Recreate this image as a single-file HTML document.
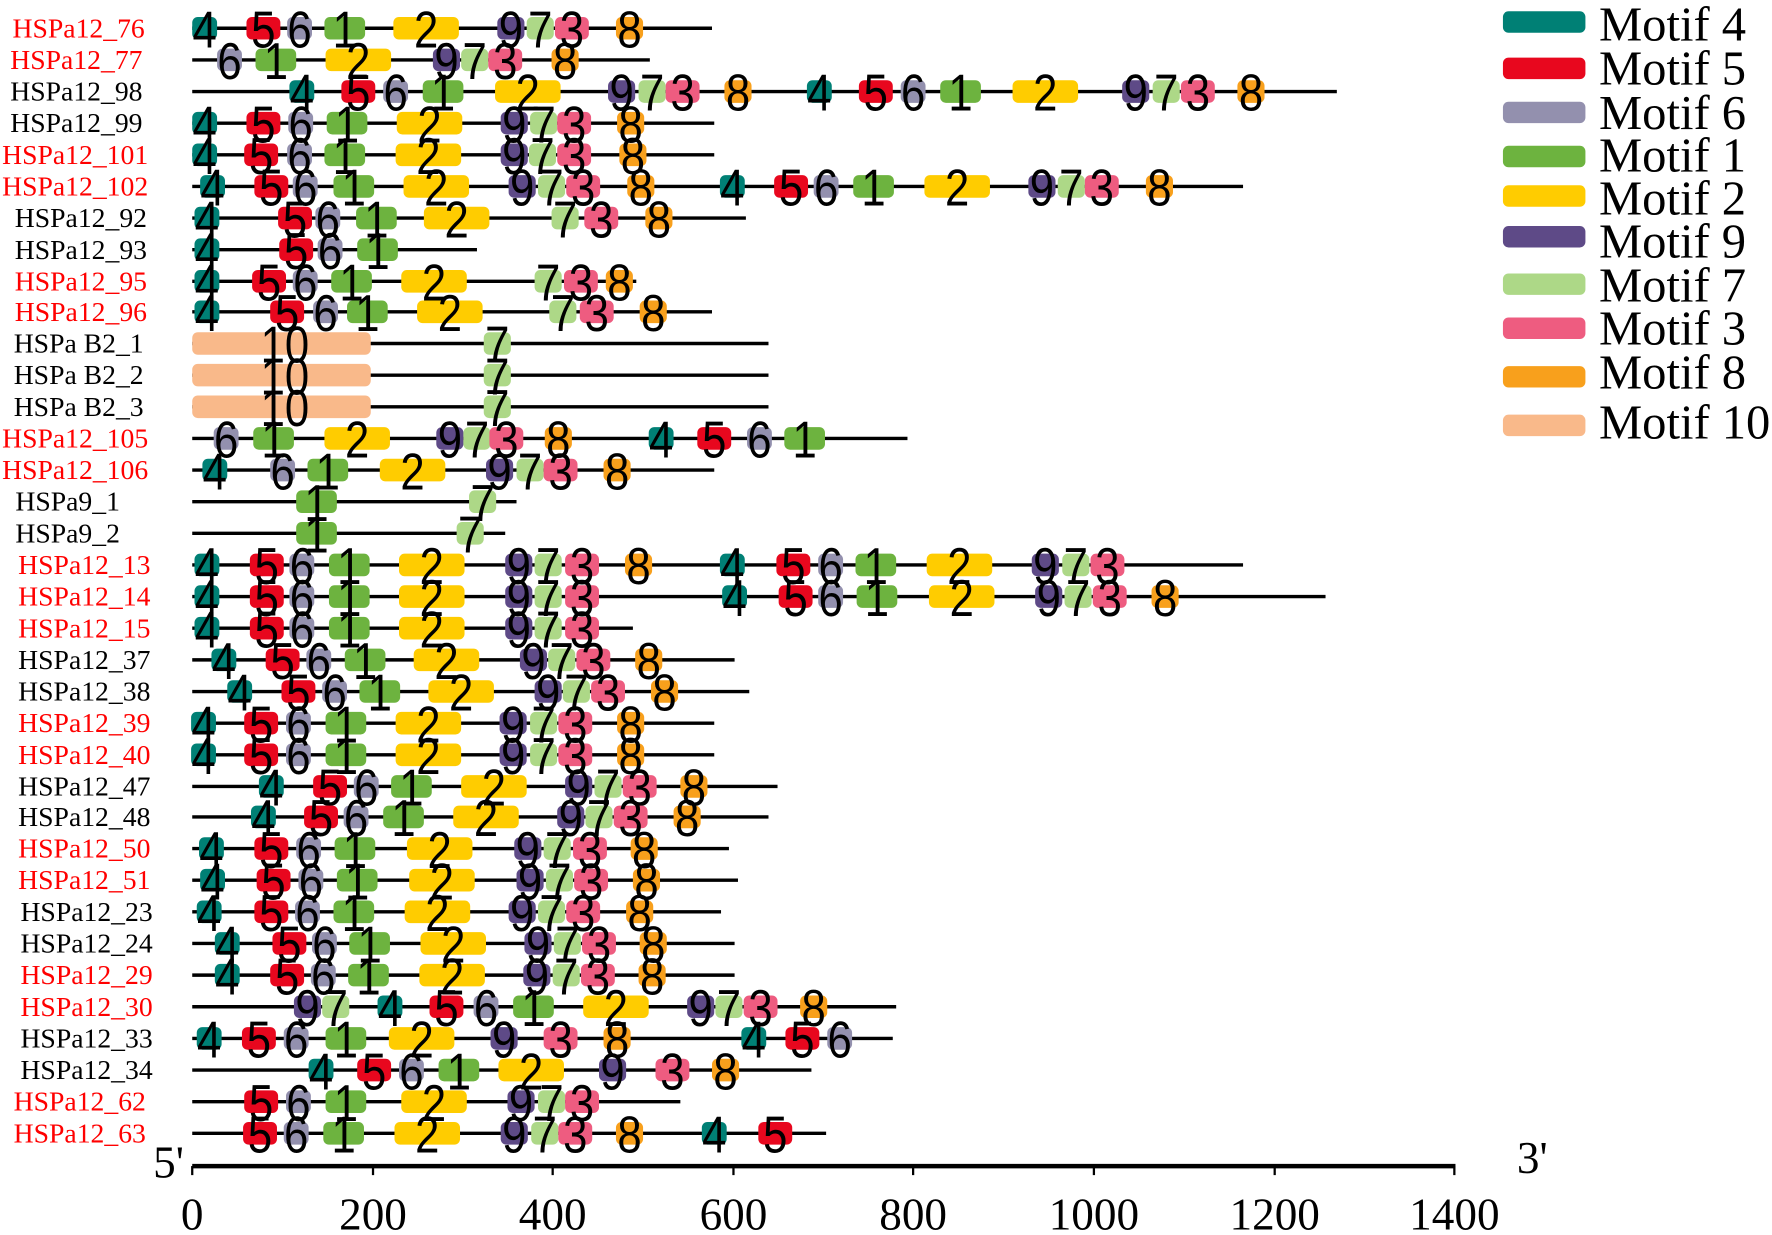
<!DOCTYPE html>
<html><head><meta charset="utf-8"><style>
html,body{margin:0;padding:0;background:#fff}
svg{display:block}
.l{font-family:"Liberation Serif",serif;font-size:24.5px;text-anchor:end}
.r{fill:#f00}
.d text{font-family:"Liberation Sans",sans-serif;font-size:46px;text-anchor:middle;fill:#000;transform-box:fill-box;transform-origin:center;transform:translateY(5px) scaleX(0.84)}
.ax{font-family:"Liberation Serif",serif;font-size:40px;text-anchor:middle}
.lg{font-family:"Liberation Serif",serif;font-size:43px}
</style></head><body>
<svg width="1772" height="1235" viewBox="0 0 1568 1093" xmlns="http://www.w3.org/2000/svg">
<defs>
<rect id="r4" x="-11" y="-10" width="22" height="20" rx="5" fill="#008075"/>
<rect id="r5" x="-15" y="-10" width="30" height="20" rx="5" fill="#E8071E"/>
<rect id="r6" x="-11" y="-10" width="22" height="20" rx="5" fill="#9390AE"/>
<rect id="r1" x="-18" y="-10" width="36" height="20" rx="5" fill="#6DB33F"/>
<rect id="r2" x="-29" y="-10" width="58" height="20" rx="5" fill="#FFCC00"/>
<rect id="r9" x="-12" y="-10" width="24" height="20" rx="5" fill="#5E4A87"/>
<rect id="r7" x="-12" y="-10" width="24" height="20" rx="5" fill="#ADD887"/>
<rect id="r3" x="-15" y="-10" width="30" height="20" rx="5" fill="#EE5C80"/>
<rect id="r8" x="-12" y="-10" width="24" height="20" rx="5" fill="#F8A01C"/>
</defs>

<g class="l">
<text x="128" y="33" class="r">HSPa12_76</text>
<text x="126" y="61" class="r">HSPa12_77</text>
<text x="126" y="89">HSPa12_98</text>
<text x="126" y="117">HSPa12_99</text>
<text x="131" y="145" class="r">HSPa12_101</text>
<text x="131" y="173" class="r">HSPa12_102</text>
<text x="130" y="201">HSPa12_92</text>
<text x="130" y="229">HSPa12_93</text>
<text x="130" y="257" class="r">HSPa12_95</text>
<text x="130" y="284" class="r">HSPa12_96</text>
<text x="127" y="312">HSPa B2_1</text>
<text x="127" y="340">HSPa B2_2</text>
<text x="127" y="368">HSPa B2_3</text>
<text x="131" y="396" class="r">HSPa12_105</text>
<text x="131" y="424" class="r">HSPa12_106</text>
<text x="106" y="452">HSPa9_1</text>
<text x="106" y="480">HSPa9_2</text>
<text x="133" y="508" class="r">HSPa12_13</text>
<text x="133" y="536" class="r">HSPa12_14</text>
<text x="133" y="564" class="r">HSPa12_15</text>
<text x="133" y="592">HSPa12_37</text>
<text x="133" y="620">HSPa12_38</text>
<text x="133" y="648" class="r">HSPa12_39</text>
<text x="133" y="676" class="r">HSPa12_40</text>
<text x="133" y="704">HSPa12_47</text>
<text x="133" y="731">HSPa12_48</text>
<text x="133" y="759" class="r">HSPa12_50</text>
<text x="133" y="787" class="r">HSPa12_51</text>
<text x="135" y="815">HSPa12_23</text>
<text x="135" y="843">HSPa12_24</text>
<text x="135" y="871" class="r">HSPa12_29</text>
<text x="135" y="899" class="r">HSPa12_30</text>
<text x="135" y="927">HSPa12_33</text>
<text x="135" y="955">HSPa12_34</text>
<text x="129" y="983" class="r">HSPa12_62</text>
<text x="129" y="1011" class="r">HSPa12_63</text>
</g>

<g class="d">
<g transform="translate(0,25)"><line x1="170" x2="630" stroke="#000" stroke-width="3"/>
<use href="#r4" x="181"/><use href="#r5" x="233"/><use href="#r6" x="265"/><use href="#r1" x="305"/><use href="#r2" x="377"/><use href="#r9" x="452"/><use href="#r7" x="478"/><use href="#r3" x="506"/><use href="#r8" x="557"/>
<text x="181" y="12">4</text><text x="233" y="12">5</text><text x="265" y="12">6</text><text x="305" y="12">1</text><text x="377" y="12">2</text><text x="452" y="12">9</text><text x="478" y="12">7</text><text x="506" y="12">3</text><text x="557" y="12">8</text></g>
<g transform="translate(0,53)"><line x1="170" x2="575" stroke="#000" stroke-width="3"/>
<use href="#r6" x="203"/><use href="#r1" x="244"/><use href="#r2" x="317"/><use href="#r9" x="395"/><use href="#r7" x="420"/><use href="#r3" x="447"/><use href="#r8" x="500"/>
<text x="203" y="12">6</text><text x="244" y="12">1</text><text x="317" y="12">2</text><text x="395" y="12">9</text><text x="420" y="12">7</text><text x="447" y="12">3</text><text x="500" y="12">8</text></g>
<g transform="translate(0,81)"><line x1="170" x2="1183" stroke="#000" stroke-width="3"/>
<use href="#r4" x="267"/><use href="#r5" x="317"/><use href="#r6" x="350"/><use href="#r1" x="392"/><use href="#r2" x="467"/><use href="#r9" x="550"/><use href="#r7" x="577"/><use href="#r3" x="604"/><use href="#r8" x="653"/><use href="#r4" x="725"/><use href="#r5" x="775"/><use href="#r6" x="808"/><use href="#r1" x="850"/><use href="#r2" x="925"/><use href="#r9" x="1005"/><use href="#r7" x="1032"/><use href="#r3" x="1060"/><use href="#r8" x="1107"/>
<text x="267" y="12">4</text><text x="317" y="12">5</text><text x="350" y="12">6</text><text x="392" y="12">1</text><text x="467" y="12">2</text><text x="550" y="12">9</text><text x="577" y="12">7</text><text x="604" y="12">3</text><text x="653" y="12">8</text><text x="725" y="12">4</text><text x="775" y="12">5</text><text x="808" y="12">6</text><text x="850" y="12">1</text><text x="925" y="12">2</text><text x="1005" y="12">9</text><text x="1032" y="12">7</text><text x="1060" y="12">3</text><text x="1107" y="12">8</text></g>
<g transform="translate(0,109)"><line x1="170" x2="632" stroke="#000" stroke-width="3"/>
<use href="#r4" x="181"/><use href="#r5" x="233"/><use href="#r6" x="266"/><use href="#r1" x="307"/><use href="#r2" x="380"/><use href="#r9" x="455"/><use href="#r7" x="481"/><use href="#r3" x="508"/><use href="#r8" x="558"/>
<text x="181" y="12">4</text><text x="233" y="12">5</text><text x="266" y="12">6</text><text x="307" y="12">1</text><text x="380" y="12">2</text><text x="455" y="12">9</text><text x="481" y="12">7</text><text x="508" y="12">3</text><text x="558" y="12">8</text></g>
<g transform="translate(0,137)"><line x1="170" x2="632" stroke="#000" stroke-width="3"/>
<use href="#r4" x="181"/><use href="#r5" x="231"/><use href="#r6" x="265"/><use href="#r1" x="305"/><use href="#r2" x="379"/><use href="#r9" x="455"/><use href="#r7" x="480"/><use href="#r3" x="508"/><use href="#r8" x="560"/>
<text x="181" y="12">4</text><text x="231" y="12">5</text><text x="265" y="12">6</text><text x="305" y="12">1</text><text x="379" y="12">2</text><text x="455" y="12">9</text><text x="480" y="12">7</text><text x="508" y="12">3</text><text x="560" y="12">8</text></g>
<g transform="translate(0,165)"><line x1="170" x2="1100" stroke="#000" stroke-width="3"/>
<use href="#r4" x="188"/><use href="#r5" x="240"/><use href="#r6" x="270"/><use href="#r1" x="313"/><use href="#r2" x="386"/><use href="#r9" x="462"/><use href="#r7" x="488"/><use href="#r3" x="516"/><use href="#r8" x="567"/><use href="#r4" x="648"/><use href="#r5" x="700"/><use href="#r6" x="731"/><use href="#r1" x="773"/><use href="#r2" x="847"/><use href="#r9" x="922"/><use href="#r7" x="948"/><use href="#r3" x="975"/><use href="#r8" x="1026"/>
<text x="188" y="12">4</text><text x="240" y="12">5</text><text x="270" y="12">6</text><text x="313" y="12">1</text><text x="386" y="12">2</text><text x="462" y="12">9</text><text x="488" y="12">7</text><text x="516" y="12">3</text><text x="567" y="12">8</text><text x="648" y="12">4</text><text x="700" y="12">5</text><text x="731" y="12">6</text><text x="773" y="12">1</text><text x="847" y="12">2</text><text x="922" y="12">9</text><text x="948" y="12">7</text><text x="975" y="12">3</text><text x="1026" y="12">8</text></g>
<g transform="translate(0,193)"><line x1="170" x2="660" stroke="#000" stroke-width="3"/>
<use href="#r4" x="183"/><use href="#r5" x="261"/><use href="#r6" x="290"/><use href="#r1" x="333"/><use href="#r2" x="404"/><use href="#r7" x="500"/><use href="#r3" x="532"/><use href="#r8" x="583"/>
<text x="183" y="12">4</text><text x="261" y="12">5</text><text x="290" y="12">6</text><text x="333" y="12">1</text><text x="404" y="12">2</text><text x="500" y="12">7</text><text x="532" y="12">3</text><text x="583" y="12">8</text></g>
<g transform="translate(0,221)"><line x1="170" x2="422" stroke="#000" stroke-width="3"/>
<use href="#r4" x="183"/><use href="#r5" x="262"/><use href="#r6" x="292"/><use href="#r1" x="334"/>
<text x="183" y="12">4</text><text x="262" y="12">5</text><text x="292" y="12">6</text><text x="334" y="12">1</text></g>
<g transform="translate(0,249)"><line x1="170" x2="563" stroke="#000" stroke-width="3"/>
<use href="#r4" x="183"/><use href="#r5" x="238"/><use href="#r6" x="270"/><use href="#r1" x="311"/><use href="#r2" x="384"/><use href="#r7" x="485"/><use href="#r3" x="514"/><use href="#r8" x="548"/>
<text x="183" y="12">4</text><text x="238" y="12">5</text><text x="270" y="12">6</text><text x="311" y="12">1</text><text x="384" y="12">2</text><text x="485" y="12">7</text><text x="514" y="12">3</text><text x="548" y="12">8</text></g>
<g transform="translate(0,276)"><line x1="170" x2="630" stroke="#000" stroke-width="3"/>
<use href="#r4" x="183"/><use href="#r5" x="254"/><use href="#r6" x="288"/><use href="#r1" x="325"/><use href="#r2" x="398"/><use href="#r7" x="498"/><use href="#r3" x="528"/><use href="#r8" x="578"/>
<text x="183" y="12">4</text><text x="254" y="12">5</text><text x="288" y="12">6</text><text x="325" y="12">1</text><text x="398" y="12">2</text><text x="498" y="12">7</text><text x="528" y="12">3</text><text x="578" y="12">8</text></g>
<g transform="translate(0,304)"><line x1="170" x2="680" stroke="#000" stroke-width="3"/>
<rect x="170" y="-10" width="158" height="20" rx="5" fill="#F9B98A"/><use href="#r7" x="440"/>
<text x="252" y="12">10</text><text x="440" y="12">7</text></g>
<g transform="translate(0,332)"><line x1="170" x2="680" stroke="#000" stroke-width="3"/>
<rect x="170" y="-10" width="158" height="20" rx="5" fill="#F9B98A"/><use href="#r7" x="440"/>
<text x="252" y="12">10</text><text x="440" y="12">7</text></g>
<g transform="translate(0,360)"><line x1="170" x2="680" stroke="#000" stroke-width="3"/>
<rect x="170" y="-10" width="158" height="20" rx="5" fill="#F9B98A"/><use href="#r7" x="440"/>
<text x="252" y="12">10</text><text x="440" y="12">7</text></g>
<g transform="translate(0,388)"><line x1="170" x2="803" stroke="#000" stroke-width="3"/>
<use href="#r6" x="200"/><use href="#r1" x="242"/><use href="#r2" x="316"/><use href="#r9" x="398"/><use href="#r7" x="422"/><use href="#r3" x="448"/><use href="#r8" x="494"/><use href="#r4" x="585"/><use href="#r5" x="632"/><use href="#r6" x="672"/><use href="#r1" x="712"/>
<text x="200" y="12">6</text><text x="242" y="12">1</text><text x="316" y="12">2</text><text x="398" y="12">9</text><text x="422" y="12">7</text><text x="448" y="12">3</text><text x="494" y="12">8</text><text x="585" y="12">4</text><text x="632" y="12">5</text><text x="672" y="12">6</text><text x="712" y="12">1</text></g>
<g transform="translate(0,416)"><line x1="170" x2="632" stroke="#000" stroke-width="3"/>
<use href="#r4" x="190"/><use href="#r6" x="250"/><use href="#r1" x="290"/><use href="#r2" x="365"/><use href="#r9" x="442"/><use href="#r7" x="469"/><use href="#r3" x="496"/><use href="#r8" x="546"/>
<text x="190" y="12">4</text><text x="250" y="12">6</text><text x="290" y="12">1</text><text x="365" y="12">2</text><text x="442" y="12">9</text><text x="469" y="12">7</text><text x="496" y="12">3</text><text x="546" y="12">8</text></g>
<g transform="translate(0,444)"><line x1="170" x2="457" stroke="#000" stroke-width="3"/>
<use href="#r1" x="280"/><use href="#r7" x="427"/><text x="280" y="12">1</text><text x="427" y="12">7</text></g>
<g transform="translate(0,472)"><line x1="170" x2="447" stroke="#000" stroke-width="3"/>
<use href="#r1" x="280"/><use href="#r7" x="416"/><text x="280" y="12">1</text><text x="416" y="12">7</text></g>
<g transform="translate(0,500)"><line x1="170" x2="1100" stroke="#000" stroke-width="3"/>
<use href="#r4" x="183"/><use href="#r5" x="236"/><use href="#r6" x="267"/><use href="#r1" x="309"/><use href="#r2" x="382"/><use href="#r9" x="459"/><use href="#r7" x="485"/><use href="#r3" x="515"/><use href="#r8" x="565"/><use href="#r4" x="648"/><use href="#r5" x="702"/><use href="#r6" x="735"/><use href="#r1" x="775"/><use href="#r2" x="849"/><use href="#r9" x="925"/><use href="#r7" x="952"/><use href="#r3" x="980"/>
<text x="183" y="12">4</text><text x="236" y="12">5</text><text x="267" y="12">6</text><text x="309" y="12">1</text><text x="382" y="12">2</text><text x="459" y="12">9</text><text x="485" y="12">7</text><text x="515" y="12">3</text><text x="565" y="12">8</text><text x="648" y="12">4</text><text x="702" y="12">5</text><text x="735" y="12">6</text><text x="775" y="12">1</text><text x="849" y="12">2</text><text x="925" y="12">9</text><text x="952" y="12">7</text><text x="980" y="12">3</text></g>
<g transform="translate(0,528)"><line x1="170" x2="1173" stroke="#000" stroke-width="3"/>
<use href="#r4" x="183"/><use href="#r5" x="236"/><use href="#r6" x="267"/><use href="#r1" x="309"/><use href="#r2" x="382"/><use href="#r9" x="459"/><use href="#r7" x="485"/><use href="#r3" x="515"/><use href="#r4" x="650"/><use href="#r5" x="704"/><use href="#r6" x="735"/><use href="#r1" x="776"/><use href="#r2" x="851"/><use href="#r9" x="928"/><use href="#r7" x="954"/><use href="#r3" x="982"/><use href="#r8" x="1031"/>
<text x="183" y="12">4</text><text x="236" y="12">5</text><text x="267" y="12">6</text><text x="309" y="12">1</text><text x="382" y="12">2</text><text x="459" y="12">9</text><text x="485" y="12">7</text><text x="515" y="12">3</text><text x="650" y="12">4</text><text x="704" y="12">5</text><text x="735" y="12">6</text><text x="776" y="12">1</text><text x="851" y="12">2</text><text x="928" y="12">9</text><text x="954" y="12">7</text><text x="982" y="12">3</text><text x="1031" y="12">8</text></g>
<g transform="translate(0,556)"><line x1="170" x2="560" stroke="#000" stroke-width="3"/>
<use href="#r4" x="183"/><use href="#r5" x="236"/><use href="#r6" x="267"/><use href="#r1" x="309"/><use href="#r2" x="382"/><use href="#r9" x="459"/><use href="#r7" x="485"/><use href="#r3" x="515"/>
<text x="183" y="12">4</text><text x="236" y="12">5</text><text x="267" y="12">6</text><text x="309" y="12">1</text><text x="382" y="12">2</text><text x="459" y="12">9</text><text x="485" y="12">7</text><text x="515" y="12">3</text></g>
<g transform="translate(0,584)"><line x1="170" x2="650" stroke="#000" stroke-width="3"/>
<use href="#r4" x="198"/><use href="#r5" x="250"/><use href="#r6" x="282"/><use href="#r1" x="323"/><use href="#r2" x="395"/><use href="#r9" x="472"/><use href="#r7" x="497"/><use href="#r3" x="525"/><use href="#r8" x="574"/>
<text x="198" y="12">4</text><text x="250" y="12">5</text><text x="282" y="12">6</text><text x="323" y="12">1</text><text x="395" y="12">2</text><text x="472" y="12">9</text><text x="497" y="12">7</text><text x="525" y="12">3</text><text x="574" y="12">8</text></g>
<g transform="translate(0,612)"><line x1="170" x2="663" stroke="#000" stroke-width="3"/>
<use href="#r4" x="212"/><use href="#r5" x="264"/><use href="#r6" x="296"/><use href="#r1" x="336"/><use href="#r2" x="408"/><use href="#r9" x="485"/><use href="#r7" x="510"/><use href="#r3" x="538"/><use href="#r8" x="588"/>
<text x="212" y="12">4</text><text x="264" y="12">5</text><text x="296" y="12">6</text><text x="336" y="12">1</text><text x="408" y="12">2</text><text x="485" y="12">9</text><text x="510" y="12">7</text><text x="538" y="12">3</text><text x="588" y="12">8</text></g>
<g transform="translate(0,640)"><line x1="170" x2="632" stroke="#000" stroke-width="3"/>
<use href="#r4" x="180"/><use href="#r5" x="231"/><use href="#r6" x="264"/><use href="#r1" x="306"/><use href="#r2" x="379"/><use href="#r9" x="454"/><use href="#r7" x="481"/><use href="#r3" x="509"/><use href="#r8" x="558"/>
<text x="180" y="12">4</text><text x="231" y="12">5</text><text x="264" y="12">6</text><text x="306" y="12">1</text><text x="379" y="12">2</text><text x="454" y="12">9</text><text x="481" y="12">7</text><text x="509" y="12">3</text><text x="558" y="12">8</text></g>
<g transform="translate(0,668)"><line x1="170" x2="632" stroke="#000" stroke-width="3"/>
<use href="#r4" x="180"/><use href="#r5" x="231"/><use href="#r6" x="264"/><use href="#r1" x="306"/><use href="#r2" x="379"/><use href="#r9" x="454"/><use href="#r7" x="481"/><use href="#r3" x="509"/><use href="#r8" x="558"/>
<text x="180" y="12">4</text><text x="231" y="12">5</text><text x="264" y="12">6</text><text x="306" y="12">1</text><text x="379" y="12">2</text><text x="454" y="12">9</text><text x="481" y="12">7</text><text x="509" y="12">3</text><text x="558" y="12">8</text></g>
<g transform="translate(0,696)"><line x1="170" x2="688" stroke="#000" stroke-width="3"/>
<use href="#r4" x="240"/><use href="#r5" x="292"/><use href="#r6" x="324"/><use href="#r1" x="364"/><use href="#r2" x="437"/><use href="#r9" x="512"/><use href="#r7" x="538"/><use href="#r3" x="566"/><use href="#r8" x="614"/>
<text x="240" y="12">4</text><text x="292" y="12">5</text><text x="324" y="12">6</text><text x="364" y="12">1</text><text x="437" y="12">2</text><text x="512" y="12">9</text><text x="538" y="12">7</text><text x="566" y="12">3</text><text x="614" y="12">8</text></g>
<g transform="translate(0,723)"><line x1="170" x2="680" stroke="#000" stroke-width="3"/>
<use href="#r4" x="233"/><use href="#r5" x="284"/><use href="#r6" x="315"/><use href="#r1" x="357"/><use href="#r2" x="430"/><use href="#r9" x="505"/><use href="#r7" x="530"/><use href="#r3" x="558"/><use href="#r8" x="608"/>
<text x="233" y="12">4</text><text x="284" y="12">5</text><text x="315" y="12">6</text><text x="357" y="12">1</text><text x="430" y="12">2</text><text x="505" y="12">9</text><text x="530" y="12">7</text><text x="558" y="12">3</text><text x="608" y="12">8</text></g>
<g transform="translate(0,751)"><line x1="170" x2="645" stroke="#000" stroke-width="3"/>
<use href="#r4" x="187"/><use href="#r5" x="240"/><use href="#r6" x="273"/><use href="#r1" x="314"/><use href="#r2" x="389"/><use href="#r9" x="467"/><use href="#r7" x="493"/><use href="#r3" x="522"/><use href="#r8" x="570"/>
<text x="187" y="12">4</text><text x="240" y="12">5</text><text x="273" y="12">6</text><text x="314" y="12">1</text><text x="389" y="12">2</text><text x="467" y="12">9</text><text x="493" y="12">7</text><text x="522" y="12">3</text><text x="570" y="12">8</text></g>
<g transform="translate(0,779)"><line x1="170" x2="653" stroke="#000" stroke-width="3"/>
<use href="#r4" x="188"/><use href="#r5" x="242"/><use href="#r6" x="275"/><use href="#r1" x="316"/><use href="#r2" x="391"/><use href="#r9" x="469"/><use href="#r7" x="495"/><use href="#r3" x="523"/><use href="#r8" x="572"/>
<text x="188" y="12">4</text><text x="242" y="12">5</text><text x="275" y="12">6</text><text x="316" y="12">1</text><text x="391" y="12">2</text><text x="469" y="12">9</text><text x="495" y="12">7</text><text x="523" y="12">3</text><text x="572" y="12">8</text></g>
<g transform="translate(0,807)"><line x1="170" x2="638" stroke="#000" stroke-width="3"/>
<use href="#r4" x="185"/><use href="#r5" x="240"/><use href="#r6" x="272"/><use href="#r1" x="313"/><use href="#r2" x="387"/><use href="#r9" x="462"/><use href="#r7" x="488"/><use href="#r3" x="516"/><use href="#r8" x="566"/>
<text x="185" y="12">4</text><text x="240" y="12">5</text><text x="272" y="12">6</text><text x="313" y="12">1</text><text x="387" y="12">2</text><text x="462" y="12">9</text><text x="488" y="12">7</text><text x="516" y="12">3</text><text x="566" y="12">8</text></g>
<g transform="translate(0,835)"><line x1="170" x2="650" stroke="#000" stroke-width="3"/>
<use href="#r4" x="201"/><use href="#r5" x="256"/><use href="#r6" x="287"/><use href="#r1" x="327"/><use href="#r2" x="401"/><use href="#r9" x="476"/><use href="#r7" x="502"/><use href="#r3" x="530"/><use href="#r8" x="578"/>
<text x="201" y="12">4</text><text x="256" y="12">5</text><text x="287" y="12">6</text><text x="327" y="12">1</text><text x="401" y="12">2</text><text x="476" y="12">9</text><text x="502" y="12">7</text><text x="530" y="12">3</text><text x="578" y="12">8</text></g>
<g transform="translate(0,863)"><line x1="170" x2="650" stroke="#000" stroke-width="3"/>
<use href="#r4" x="201"/><use href="#r5" x="254"/><use href="#r6" x="286"/><use href="#r1" x="326"/><use href="#r2" x="400"/><use href="#r9" x="475"/><use href="#r7" x="501"/><use href="#r3" x="529"/><use href="#r8" x="577"/>
<text x="201" y="12">4</text><text x="254" y="12">5</text><text x="286" y="12">6</text><text x="326" y="12">1</text><text x="400" y="12">2</text><text x="475" y="12">9</text><text x="501" y="12">7</text><text x="529" y="12">3</text><text x="577" y="12">8</text></g>
<g transform="translate(0,891)"><line x1="170" x2="793" stroke="#000" stroke-width="3"/>
<use href="#r9" x="272"/><use href="#r7" x="297"/><use href="#r4" x="345"/><use href="#r5" x="395"/><use href="#r6" x="430"/><use href="#r1" x="472"/><use href="#r2" x="545"/><use href="#r9" x="620"/><use href="#r7" x="645"/><use href="#r3" x="673"/><use href="#r8" x="720"/>
<text x="272" y="12">9</text><text x="297" y="12">7</text><text x="345" y="12">4</text><text x="395" y="12">5</text><text x="430" y="12">6</text><text x="472" y="12">1</text><text x="545" y="12">2</text><text x="620" y="12">9</text><text x="645" y="12">7</text><text x="673" y="12">3</text><text x="720" y="12">8</text></g>
<g transform="translate(0,919)"><line x1="170" x2="790" stroke="#000" stroke-width="3"/>
<use href="#r4" x="185"/><use href="#r5" x="229"/><use href="#r6" x="262"/><use href="#r1" x="306"/><use href="#r2" x="373"/><use href="#r9" x="446"/><use href="#r3" x="496"/><use href="#r8" x="546"/><use href="#r4" x="667"/><use href="#r5" x="710"/><use href="#r6" x="743"/>
<text x="185" y="12">4</text><text x="229" y="12">5</text><text x="262" y="12">6</text><text x="306" y="12">1</text><text x="373" y="12">2</text><text x="446" y="12">9</text><text x="496" y="12">3</text><text x="546" y="12">8</text><text x="667" y="12">4</text><text x="710" y="12">5</text><text x="743" y="12">6</text></g>
<g transform="translate(0,947)"><line x1="170" x2="718" stroke="#000" stroke-width="3"/>
<use href="#r4" x="284"/><use href="#r5" x="331"/><use href="#r6" x="364"/><use href="#r1" x="406"/><use href="#r2" x="470"/><use href="#r9" x="542"/><use href="#r3" x="595"/><use href="#r8" x="642"/>
<text x="284" y="12">4</text><text x="331" y="12">5</text><text x="364" y="12">6</text><text x="406" y="12">1</text><text x="470" y="12">2</text><text x="542" y="12">9</text><text x="595" y="12">3</text><text x="642" y="12">8</text></g>
<g transform="translate(0,975)"><line x1="170" x2="602" stroke="#000" stroke-width="3"/>
<use href="#r5" x="231"/><use href="#r6" x="264"/><use href="#r1" x="306"/><use href="#r2" x="384"/><use href="#r9" x="461"/><use href="#r7" x="488"/><use href="#r3" x="515"/>
<text x="231" y="12">5</text><text x="264" y="12">6</text><text x="306" y="12">1</text><text x="384" y="12">2</text><text x="461" y="12">9</text><text x="488" y="12">7</text><text x="515" y="12">3</text></g>
<g transform="translate(0,1003)"><line x1="170" x2="731" stroke="#000" stroke-width="3"/>
<use href="#r5" x="230"/><use href="#r6" x="262"/><use href="#r1" x="304"/><use href="#r2" x="378"/><use href="#r9" x="455"/><use href="#r7" x="482"/><use href="#r3" x="509"/><use href="#r8" x="557"/><use href="#r4" x="632"/><use href="#r5" x="686"/>
<text x="230" y="12">5</text><text x="262" y="12">6</text><text x="304" y="12">1</text><text x="378" y="12">2</text><text x="455" y="12">9</text><text x="482" y="12">7</text><text x="509" y="12">3</text><text x="557" y="12">8</text><text x="632" y="12">4</text><text x="686" y="12">5</text></g>
</g>

<g stroke="#000" stroke-width="4">
<line x1="170" y1="1032" x2="1288" y2="1032"/>
<line x1="170" y1="1032" x2="170" y2="1040" stroke-width="2"/>
<line x1="330" y1="1032" x2="330" y2="1040" stroke-width="2"/>
<line x1="489" y1="1032" x2="489" y2="1040" stroke-width="2"/>
<line x1="649" y1="1032" x2="649" y2="1040" stroke-width="2"/>
<line x1="808" y1="1032" x2="808" y2="1040" stroke-width="2"/>
<line x1="968" y1="1032" x2="968" y2="1040" stroke-width="2"/>
<line x1="1128" y1="1032" x2="1128" y2="1040" stroke-width="2"/>
<line x1="1287" y1="1032" x2="1287" y2="1040" stroke-width="2"/>
</g>
<g class="ax">
<text x="149" y="1042">5'</text><text x="1356" y="1038">3'</text>
<text x="170" y="1088">0</text><text x="330" y="1088">200</text><text x="489" y="1088">400</text><text x="649" y="1088">600</text><text x="808" y="1088">800</text><text x="968" y="1088">1000</text><text x="1128" y="1088">1200</text><text x="1287" y="1088">1400</text>
</g>

<g>
<rect x="1330" y="10" width="73" height="19" rx="5" fill="#008075"/>
<rect x="1330" y="51" width="73" height="19" rx="5" fill="#E8071E"/>
<rect x="1330" y="90" width="73" height="19" rx="5" fill="#9390AE"/>
<rect x="1330" y="129" width="73" height="19" rx="5" fill="#6DB33F"/>
<rect x="1330" y="164" width="73" height="19" rx="5" fill="#FFCC00"/>
<rect x="1330" y="200" width="73" height="19" rx="5" fill="#5E4A87"/>
<rect x="1330" y="242" width="73" height="19" rx="5" fill="#ADD887"/>
<rect x="1330" y="281" width="73" height="19" rx="5" fill="#EE5C80"/>
<rect x="1330" y="324" width="73" height="19" rx="5" fill="#F8A01C"/>
<rect x="1330" y="367" width="73" height="19" rx="5" fill="#F9B98A"/>
</g>
<g class="lg">
<text x="1415" y="36">Motif 4</text>
<text x="1415" y="75">Motif 5</text>
<text x="1415" y="114">Motif 6</text>
<text x="1415" y="152">Motif 1</text>
<text x="1415" y="190">Motif 2</text>
<text x="1415" y="228">Motif 9</text>
<text x="1415" y="267">Motif 7</text>
<text x="1415" y="305">Motif 3</text>
<text x="1415" y="344">Motif 8</text>
<text x="1415" y="388">Motif 10</text>
</g>
</svg>
</body></html>
